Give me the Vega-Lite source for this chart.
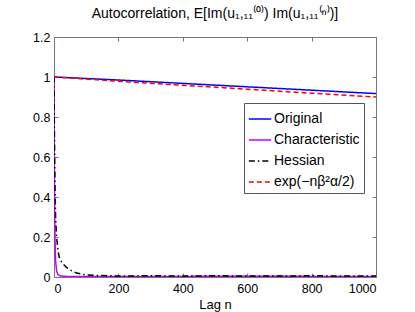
{
  "$schema": "https://vega.github.io/schema/vega-lite/v6.json",
  "width": 322,
  "height": 240,
  "autosize": {"type": "none"},
  "padding": {"left": 54, "top": 37, "right": 39, "bottom": 35},
  "background": "white",
  "title": {"text": "Autocorrelation, E[Im(u₁,₁₁⁽⁰⁾) Im(u₁,₁₁⁽ⁿ⁾)]", "font": "Liberation Sans", "fontSize": 14, "fontWeight": "normal", "color": "black", "offset": 10},
  "config": {
    "view": {"stroke": null},
    "font": "Liberation Sans",
    "axis": {"labelFont": "Liberation Sans", "labelFontSize": 12.5, "labelColor": "black", "titleFont": "Liberation Sans", "titleFontSize": 13, "titleFontWeight": "normal", "titleColor": "black", "grid": false, "domainColor": "#777777", "tickColor": "#777777", "tickSize": -4, "domainWidth": 1}
  },
  "data": {"values": [
    {"n": 0, "v": 1, "s": "Original"},
    {"n": 200, "v": 0.985, "s": "Original"},
    {"n": 400, "v": 0.968, "s": "Original"},
    {"n": 600, "v": 0.951, "s": "Original"},
    {"n": 800, "v": 0.934, "s": "Original"},
    {"n": 1000, "v": 0.917, "s": "Original"},
    {"n": 0, "v": 1, "s": "Characteristic"},
    {"n": 1, "v": 0.6, "s": "Characteristic"},
    {"n": 2, "v": 0.35, "s": "Characteristic"},
    {"n": 3, "v": 0.2, "s": "Characteristic"},
    {"n": 5, "v": 0.08, "s": "Characteristic"},
    {"n": 8, "v": 0.03, "s": "Characteristic"},
    {"n": 12, "v": 0.013, "s": "Characteristic"},
    {"n": 20, "v": 0.005, "s": "Characteristic"},
    {"n": 40, "v": 0.003, "s": "Characteristic"},
    {"n": 200, "v": 0.003, "s": "Characteristic"},
    {"n": 400, "v": 0.003, "s": "Characteristic"},
    {"n": 600, "v": 0.004, "s": "Characteristic"},
    {"n": 800, "v": 0.003, "s": "Characteristic"},
    {"n": 1000, "v": 0.003, "s": "Characteristic"},
    {"n": 0, "v": 1, "s": "Hessian"},
    {"n": 1, "v": 0.78, "s": "Hessian"},
    {"n": 2, "v": 0.6, "s": "Hessian"},
    {"n": 3, "v": 0.46, "s": "Hessian"},
    {"n": 5, "v": 0.3, "s": "Hessian"},
    {"n": 8, "v": 0.2, "s": "Hessian"},
    {"n": 12, "v": 0.14, "s": "Hessian"},
    {"n": 16, "v": 0.1, "s": "Hessian"},
    {"n": 25, "v": 0.07, "s": "Hessian"},
    {"n": 39, "v": 0.048, "s": "Hessian"},
    {"n": 50, "v": 0.035, "s": "Hessian"},
    {"n": 70, "v": 0.02, "s": "Hessian"},
    {"n": 100, "v": 0.01, "s": "Hessian"},
    {"n": 150, "v": 0.007, "s": "Hessian"},
    {"n": 200, "v": 0.005, "s": "Hessian"},
    {"n": 300, "v": 0.006, "s": "Hessian"},
    {"n": 400, "v": 0.005, "s": "Hessian"},
    {"n": 500, "v": 0.006, "s": "Hessian"},
    {"n": 600, "v": 0.005, "s": "Hessian"},
    {"n": 700, "v": 0.005, "s": "Hessian"},
    {"n": 800, "v": 0.006, "s": "Hessian"},
    {"n": 900, "v": 0.005, "s": "Hessian"},
    {"n": 1000, "v": 0.005, "s": "Hessian"},
    {"n": 0, "v": 1, "s": "exp(−nβ²α/2)"},
    {"n": 200, "v": 0.979, "s": "exp(−nβ²α/2)"},
    {"n": 400, "v": 0.959, "s": "exp(−nβ²α/2)"},
    {"n": 600, "v": 0.939, "s": "exp(−nβ²α/2)"},
    {"n": 800, "v": 0.919, "s": "exp(−nβ²α/2)"},
    {"n": 1000, "v": 0.9, "s": "exp(−nβ²α/2)"}
  ]},
  "resolve": {"axis": {"x": "independent", "y": "independent"}},
  "layer": [
    {
      "mark": {"type": "line", "strokeWidth": 1.5, "clip": true},
      "encoding": {
        "x": {"field": "n", "type": "quantitative", "scale": {"domain": [0, 1000], "nice": false, "zero": false}, "axis": {"orient": "bottom", "values": [0, 200, 400, 600, 800, 1000], "format": "d", "title": "Lag n", "titlePadding": 4, "labelPadding": 9}},
        "y": {"field": "v", "type": "quantitative", "scale": {"domain": [0, 1.2], "nice": false, "zero": false}, "axis": {"orient": "left", "values": [0, 0.2, 0.4, 0.6, 0.8, 1, 1.2], "format": ".1~f", "title": null, "labelPadding": 8}},
        "color": {"field": "s", "type": "nominal", "sort": null,
          "scale": {"domain": ["Original", "Characteristic", "Hessian", "exp(−nβ²α/2)"], "range": ["#0000ff", "#bf00ff", "#000000", "#ff0000"]},
          "legend": {"title": null, "orient": "none", "legendX": 190, "legendY": 66, "fillColor": "white", "strokeColor": "#555555", "padding": 4, "symbolType": "stroke", "symbolSize": 500, "symbolStrokeWidth": 1.5, "labelFontSize": 14, "labelFont": "Liberation Sans", "labelColor": "black", "rowPadding": 2, "labelOffset": 2}},
        "strokeDash": {"field": "s", "type": "nominal", "sort": null,
          "scale": {"domain": ["Original", "Characteristic", "Hessian", "exp(−nβ²α/2)"], "range": [[1, 0], [1, 0], [6, 3, 1.5, 3], [5, 3]]},
          "legend": null}
      }
    },
    {
      "mark": {"type": "line", "opacity": 0},
      "encoding": {
        "x": {"field": "n", "type": "quantitative", "scale": {"domain": [0, 1000], "nice": false, "zero": false}, "axis": {"orient": "top", "values": [0, 200, 400, 600, 800, 1000], "labels": false, "title": null}},
        "y": {"field": "v", "type": "quantitative", "scale": {"domain": [0, 1.2], "nice": false, "zero": false}, "axis": {"orient": "right", "values": [0, 0.2, 0.4, 0.6, 0.8, 1, 1.2], "labels": false, "title": null}},
        "detail": {"field": "s"}
      }
    }
  ]
}
